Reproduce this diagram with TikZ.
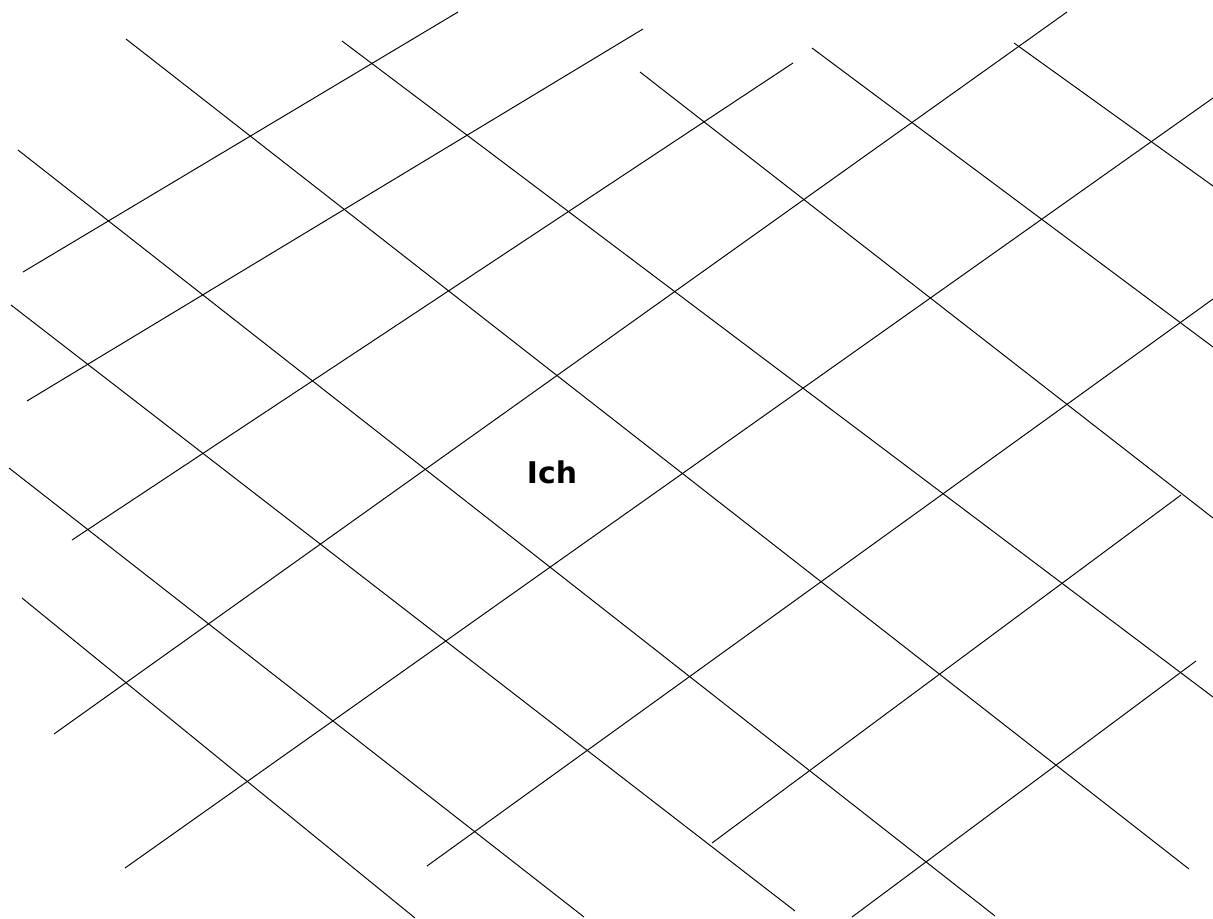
\documentclass[tikz,border=0pt]{standalone}
\usepackage{fontspec}
\setmainfont{DejaVu Sans}
\usepackage{tikz}

\begin{document}
\begin{tikzpicture}[x=0.02cm, y=-0.02cm, line width=0.55pt]
\useasboundingbox (0,0) rectangle (1213,919);
\node (ich) at (552,472) {\fontsize{17}{20}\selectfont\bfseries Ich};
\draw (23,272) to (458,12);
\draw (27,401) to (643,29);
\draw (72,540) to (793,63);
\draw (54,734) to (1067,12);
\draw (125,868) to (1213,98);
\draw (427,866) to (1213,299);
\draw (712,843) to (1181,495);
\draw (852,917) to (1196,661);
\draw (126,39) to (1189,869);
\draw (342,41) to (1213,697);
\draw (640,72) to (1213,518);
\draw (812,48) to (1213,347);
\draw (1014,43) to (1213,186);
\draw (18,150) to (995,916);
\draw (11,305) to (795,911);
\draw (9,468) to (584,917);
\draw (22,598) to (415,918);
\end{tikzpicture}
\end{document}
